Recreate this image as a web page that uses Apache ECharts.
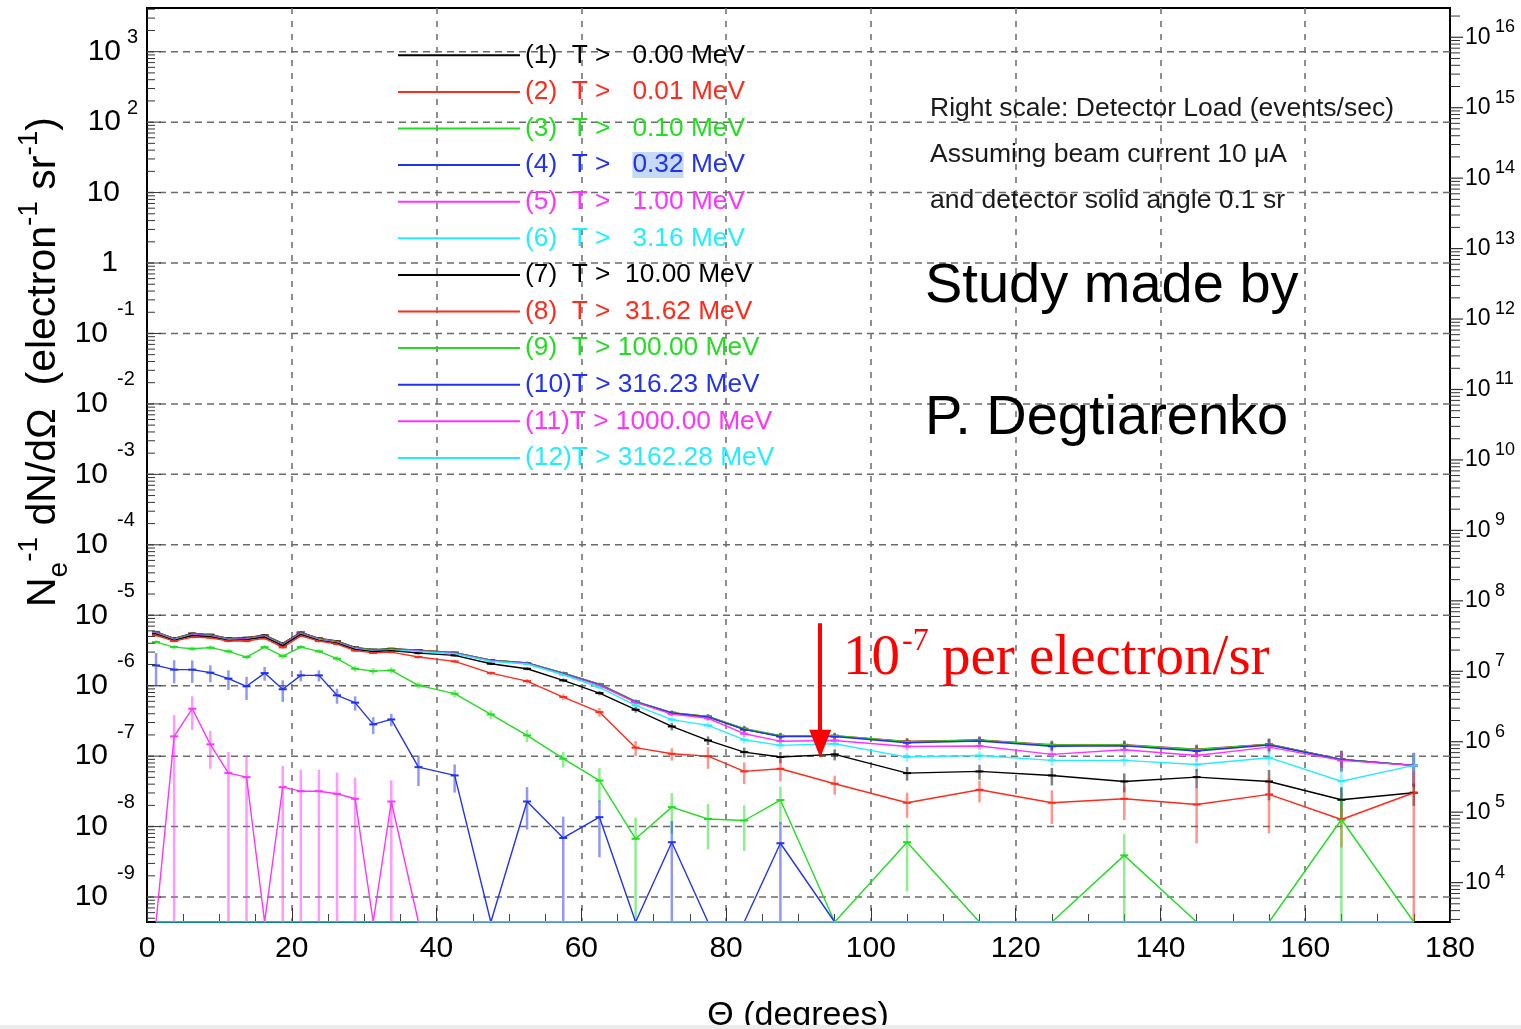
<!DOCTYPE html>
<html>
<head>
<meta charset="utf-8">
<title>Angular distribution of secondaries</title>
<script src="https://cdn.jsdelivr.net/npm/echarts@6/dist/echarts.min.js"></script>
<style>
  html, body { margin: 0; padding: 0; background: #fff; }
  #chart { width: 1521px; height: 1029px; }
</style>
</head>
<body>
<div id="chart"></div>
<script>
// bin centres (degrees): 2.5 deg bins to 35, 5 deg bins to 90, 10 deg bins to 180
var theta = [1.25, 3.75, 6.25, 8.75, 11.25, 13.75, 16.25, 18.75, 21.25, 23.75, 26.25, 28.75, 31.25, 33.75,
  37.5, 42.5, 47.5, 52.5, 57.5, 62.5, 67.5, 72.5, 77.5, 82.5, 87.5,
  95, 105, 115, 125, 135, 145, 155, 165, 175];

// kinetic energy thresholds, MeV
var thresholds = [0, 0.01, 0.1, 0.32, 1, 3.16, 10, 31.62, 100, 316.23, 1000, 3162.28];

// decade tick labels (exponents) on the left and right scales
var leftExponents = [-9, -8, -7, -6, -5, -4, -3, -2, -1, 0, 1, 2, 3];
var rightExponents = [4, 5, 6, 7, 8, 9, 10, 11, 12, 13, 14, 15, 16];

// dN/dOmega per electron per sr, one array per threshold (0 = empty bin)
var s1 = [5.8e-6, 4.7e-6, 5.5e-6, 5.3e-6, 4.7e-6, 4.8e-6, 5.2e-6, 4.0e-6, 5.7e-6, 4.7e-6, 4.3e-6, 3.5e-6, 3.25e-6, 3.35e-6,
  3.2e-6, 2.95e-6, 2.3e-6, 2.1e-6, 1.5e-6, 1.04e-6, 5.9e-7, 4.1e-7, 3.6e-7, 2.4e-7, 1.92e-7,
  1.92e-7, 1.6e-7, 1.68e-7, 1.42e-7, 1.43e-7, 1.23e-7, 1.47e-7, 9.0e-8, 7.4e-8];
var s2 = [5.75e-6, 4.65e-6, 5.45e-6, 5.25e-6, 4.65e-6, 4.75e-6, 5.15e-6, 3.95e-6, 5.65e-6, 4.65e-6, 4.25e-6, 3.45e-6, 3.2e-6, 3.3e-6,
  3.18e-6, 2.93e-6, 2.3e-6, 2.1e-6, 1.5e-6, 1.05e-6, 6.0e-7, 4.15e-7, 3.65e-7, 2.45e-7, 1.95e-7,
  1.95e-7, 1.62e-7, 1.7e-7, 1.45e-7, 1.45e-7, 1.25e-7, 1.48e-7, 9.0e-8, 7.4e-8];
var s3 = [5.7e-6, 4.6e-6, 5.4e-6, 5.2e-6, 4.6e-6, 4.7e-6, 5.1e-6, 3.9e-6, 5.6e-6, 4.6e-6, 4.2e-6, 3.45e-6, 3.2e-6, 3.3e-6,
  3.15e-6, 2.92e-6, 2.28e-6, 2.1e-6, 1.5e-6, 1.05e-6, 6.0e-7, 4.15e-7, 3.65e-7, 2.45e-7, 1.95e-7,
  1.95e-7, 1.6e-7, 1.68e-7, 1.44e-7, 1.44e-7, 1.24e-7, 1.47e-7, 9.0e-8, 7.4e-8];
var s4 = [5.65e-6, 4.55e-6, 5.35e-6, 5.15e-6, 4.55e-6, 4.65e-6, 5.05e-6, 3.85e-6, 5.55e-6, 4.55e-6, 4.15e-6, 3.4e-6, 3.15e-6, 3.25e-6,
  3.12e-6, 2.9e-6, 2.26e-6, 2.08e-6, 1.48e-6, 1.03e-6, 5.9e-7, 4.1e-7, 3.6e-7, 2.4e-7, 1.9e-7,
  1.9e-7, 1.55e-7, 1.64e-7, 1.38e-7, 1.4e-7, 1.18e-7, 1.44e-7, 8.9e-8, 7.4e-8];
var s5 = [5.6e-6, 4.5e-6, 5.3e-6, 5.1e-6, 4.5e-6, 4.6e-6, 5.0e-6, 3.8e-6, 5.5e-6, 4.5e-6, 4.1e-6, 3.38e-6, 3.12e-6, 3.22e-6,
  3.1e-6, 2.88e-6, 2.25e-6, 2.06e-6, 1.46e-6, 1.01e-6, 5.8e-7, 3.95e-7, 3.45e-7, 2.08e-7, 1.63e-7,
  1.67e-7, 1.37e-7, 1.39e-7, 1.06e-7, 1.23e-7, 1.02e-7, 1.34e-7, 8.7e-8, 7.4e-8];
var s6 = [5.5e-6, 4.45e-6, 5.2e-6, 5.0e-6, 4.45e-6, 4.55e-6, 4.95e-6, 3.75e-6, 5.4e-6, 4.45e-6, 4.05e-6, 3.32e-6, 3.08e-6, 3.18e-6,
  3.05e-6, 2.85e-6, 2.22e-6, 2.03e-6, 1.43e-6, 9.5e-7, 5.25e-7, 3.3e-7, 2.73e-7, 1.71e-7, 1.42e-7,
  1.5e-7, 9.7e-8, 1.02e-7, 8.7e-8, 8.7e-8, 7.6e-8, 9.5e-8, 4.4e-8, 7.4e-8];
var s7 = [5.45e-6, 4.4e-6, 5.15e-6, 4.95e-6, 4.4e-6, 4.5e-6, 4.9e-6, 3.7e-6, 5.35e-6, 4.4e-6, 4.0e-6, 3.28e-6, 3.05e-6, 3.15e-6,
  2.9e-6, 2.69e-6, 2.05e-6, 1.74e-6, 1.19e-6, 7.85e-7, 4.56e-7, 2.64e-7, 1.67e-7, 1.14e-7, 9.7e-8,
  1.06e-7, 5.74e-8, 6.07e-8, 5.32e-8, 4.37e-8, 5.03e-8, 4.37e-8, 2.4e-8, 3.02e-8];
var s8 = [5.2e-6, 4.3e-6, 4.9e-6, 4.8e-6, 4.3e-6, 4.3e-6, 4.7e-6, 3.5e-6, 5.1e-6, 4.3e-6, 3.9e-6, 3.15e-6, 2.92e-6, 3.0e-6,
  2.55e-6, 2.21e-6, 1.51e-6, 1.16e-6, 6.9e-7, 4.22e-7, 1.32e-7, 1.08e-7, 1.0e-7, 6.07e-8, 6.62e-8,
  4.06e-8, 2.18e-8, 3.33e-8, 2.18e-8, 2.48e-8, 2.06e-8, 2.86e-8, 1.26e-8, 3.02e-8];
var s9 = [4.16e-6, 3.53e-6, 3.35e-6, 3.47e-6, 3.07e-6, 2.55e-6, 3.53e-6, 2.63e-6, 3.53e-6, 3.07e-6, 2.42e-6, 1.74e-6, 1.61e-6, 1.65e-6,
  1.01e-6, 7.7e-7, 3.91e-7, 1.97e-7, 9.2e-8, 4.5e-8, 6.7e-9, 1.89e-8, 1.28e-8, 1.22e-8, 2.38e-8,
  0, 6.0e-9, 0, 0, 3.9e-9, 0, 0, 1.26e-8, 0];
var s10 = [1.94e-6, 1.69e-6, 1.69e-6, 1.53e-6, 1.26e-6, 9.8e-7, 1.51e-6, 8.9e-7, 1.4e-6, 1.4e-6, 7.3e-7, 5.74e-7, 2.82e-7, 3.32e-7,
  6.98e-8, 5.32e-8, 0, 2.27e-8, 6.9e-9, 1.36e-8, 0, 6.0e-9, 0, 0, 5.8e-9,
  0, 0, 0, 0, 0, 0, 0, 0, 0];
var s11 = [0, 1.91e-7, 4.71e-7, 1.47e-7, 5.74e-8, 5.03e-8, 0, 3.63e-8, 3.18e-8, 3.18e-8, 2.92e-8, 2.48e-8, 0, 2.27e-8,
  0, 0, 0, 0, 0, 0, 0, 0, 0, 0, 0,
  0, 0, 0, 0, 0, 0, 0, 0, 0];
var s12 = [0, 0, 0, 0, 0, 0, 0, 0, 0, 0, 0, 0, 0, 0,
  0, 0, 0, 0, 0, 0, 0, 0, 0, 0, 0,
  0, 0, 0, 0, 0, 0, 0, 0, 0];

// relative statistical errors (sigma / value)
var errTop = [0.03, 0.03, 0.03, 0.03, 0.03, 0.03, 0.03, 0.03, 0.03, 0.03, 0.03, 0.03, 0.03, 0.03,
  0.03, 0.03, 0.04, 0.04, 0.05, 0.05, 0.06, 0.07, 0.08, 0.1, 0.1,
  0.1, 0.12, 0.12, 0.15, 0.15, 0.17, 0.2, 0.32, 0.5];
var err6 = [0.03, 0.03, 0.03, 0.03, 0.03, 0.03, 0.03, 0.03, 0.03, 0.03, 0.03, 0.03, 0.03, 0.03,
  0.03, 0.03, 0.04, 0.04, 0.05, 0.06, 0.07, 0.08, 0.1, 0.12, 0.12,
  0.12, 0.15, 0.15, 0.17, 0.17, 0.2, 0.22, 0.55, 0.5];
var err7 = [0.03, 0.03, 0.03, 0.03, 0.03, 0.03, 0.03, 0.03, 0.03, 0.03, 0.03, 0.03, 0.03, 0.03,
  0.04, 0.04, 0.04, 0.05, 0.06, 0.07, 0.09, 0.12, 0.14, 0.16, 0.18,
  0.18, 0.22, 0.24, 0.28, 0.3, 0.3, 0.46, 0.5, 0.35];
var err8 = [0.04, 0.04, 0.04, 0.04, 0.04, 0.04, 0.04, 0.04, 0.04, 0.04, 0.04, 0.04, 0.04, 0.04,
  0.05, 0.05, 0.06, 0.07, 0.09, 0.14, 0.24, 0.2, 0.34, 0.34, 0.34,
  0.3, 0.39, 0.34, 0.5, 0.5, 0.72, 0.72, 0.6, 1.0];
var err9 = [0.06, 0.07, 0.07, 0.07, 0.07, 0.08, 0.07, 0.08, 0.07, 0.07, 0.08, 0.09, 0.1, 0.1,
  0.1, 0.12, 0.14, 0.2, 0.25, 0.5, 1.0, 0.58, 0.63, 0.63, 0.55,
  0, 0.8, 0, 0, 1.0, 0, 0, 1.0, 0];
var err10 = [0.5, 0.36, 0.35, 0.27, 0.31, 0.36, 0.22, 0.34, 0.18, 0.18, 0.24, 0.23, 0.27, 0.2,
  0.46, 0.43, 0, 0.6, 1.0, 0.73, 0, 1.0, 0, 0, 1.0,
  0, 0, 0, 0, 0, 0, 0, 0, 0];
var err11 = [0, 1.0, 0.5, 0.55, 1.0, 1.0, 0, 1.0, 1.0, 1.0, 1.0, 1.0, 0, 1.0,
  0, 0, 0, 0, 0, 0, 0, 0, 0, 0, 0,
  0, 0, 0, 0, 0, 0, 0, 0, 0];

var yMin = 4.42e-10, yMax = 4.17e3;
// right scale: 10 uA beam (electrons/s) times 0.1 sr
var rate = 10e-6 / 1.602e-19 * 0.1;

var colors = ['#000000', '#ff2a1a', '#22dd22', '#2233ee', '#ff33ff', '#22eeff',
  '#000000', '#ff2a1a', '#22dd22', '#2233ee', '#ff33ff', '#22eeff'];
var values = [s1, s2, s3, s4, s5, s6, s7, s8, s9, s10, s11, s12];
var errors = [errTop, errTop, errTop, errTop, errTop, err6, err7, err8, err9, err10, err11, s12];

var FONT = '"Liberation Sans", Arial, sans-serif';
var SERIF = '"Liberation Serif", "Times New Roman", serif';
var GRID_LINE = { stroke: '#6b6b6b', lineWidth: 1.5, lineDash: [7, 5] };

function legendName(i) {
    var v = thresholds[i].toFixed(2);
    while (v.length < 6) v = ' ' + v;
    return '(' + (i + 1) + ')' + (i < 9 ? '  ' : '') + 'T > ' + v + ' MeV';
}

function txt(s, x, y, align, size) {
    return {
        type: 'text', x: x, y: y,
        style: { text: s, font: size + 'px ' + FONT, fill: '#000', textFill: '#000',
            align: align, textAlign: align, verticalAlign: 'middle', textVerticalAlign: 'middle' }
    };
}

function renderErr(params, api) {
    var p = api.coord([api.value(0), api.value(1)]);
    var lo = api.coord([api.value(0), api.value(2)]);
    var hi = api.coord([api.value(0), api.value(3)]);
    var c = api.visual('color');
    return {
        type: 'group',
        children: [
            { type: 'line', shape: { x1: p[0], y1: lo[1], x2: p[0], y2: hi[1] }, style: { stroke: c, lineWidth: 2.5, opacity: 0.5 } },
            { type: 'line', shape: { x1: p[0] - 4, y1: p[1], x2: p[0] + 4, y2: p[1] }, style: { stroke: c, lineWidth: 2 } }
        ]
    };
}

function tickRenderer(len) {
    return function (params, api) {
        var p = api.coord([api.value(0), api.value(1)]);
        return { type: 'line', shape: { x1: p[0], y1: p[1], x2: p[0] + len, y2: p[1] }, style: { stroke: '#333', lineWidth: 1 } };
    };
}

// decade grid line, major tick and "10^n" label on the left scale
function renderLeftDecade(params, api) {
    var v = api.value(1), n = api.value(2);
    var p = api.coord([0, v]);
    var pr = api.coord([180, v]);
    var kids = [
        { type: 'line', shape: { x1: p[0], y1: p[1], x2: pr[0], y2: p[1] }, style: GRID_LINE },
        { type: 'line', shape: { x1: p[0], y1: p[1], x2: p[0] + 14, y2: p[1] }, style: { stroke: '#333', lineWidth: 1 } }
    ];
    if (n === 0) {
        kids.push(txt('1', 118, p[1], 'right', 30));
    } else if (n === 1) {
        kids.push(txt('10', 120, p[1], 'right', 30));
    } else if (n > 0) {
        kids.push(txt('10', 121, p[1], 'right', 30));
        kids.push(txt(String(n), 127, p[1] - 14, 'left', 20));
    } else {
        kids.push(txt('10', 108, p[1], 'right', 30));
        kids.push(txt(String(n), 117, p[1] - 24, 'left', 20));
    }
    return { type: 'group', children: kids };
}

// major tick and "10^n" label on the right scale
function renderRightDecade(params, api) {
    var p = api.coord([180, api.value(1)]);
    var n = api.value(2);
    return {
        type: 'group',
        children: [
            { type: 'line', shape: { x1: p[0], y1: p[1], x2: p[0] + 13, y2: p[1] }, style: { stroke: '#333', lineWidth: 1.2 } },
            txt('10', p[0] + 15, p[1], 'left', 23),
            txt(String(n), p[0] + 45, p[1] - 10, 'left', 18)
        ]
    };
}

var series = [];
var legendData = [];
values.forEach(function (vals, i) {
    var name = legendName(i);
    legendData.push({ name: name, textStyle: { color: colors[i] } });
    series.push({
        type: 'line',
        name: name,
        data: theta.map(function (t, k) { return [t, vals[k] > 0 ? vals[k] : yMin]; }),
        symbol: 'none',
        lineStyle: { color: colors[i], width: 1.4 },
        itemStyle: { color: colors[i] },
        z: 3
    });
    var eb = [];
    theta.forEach(function (t, k) {
        var r = errors[i][k];
        if (vals[k] > 0 && r > 0) {
            eb.push([t, vals[k], Math.max(vals[k] * (1 - r), yMin), vals[k] * (1 + r)]);
        }
    });
    series.push({
        type: 'custom',
        name: 'err' + (i + 1),
        data: eb,
        encode: { x: 0, y: 1 },
        renderItem: renderErr,
        itemStyle: { color: colors[i] },
        clip: true,
        silent: true,
        z: 2
    });
});

// minor log ticks on both vertical axes
var leftMinor = [], rightMinor = [];
for (var d = -10; d <= 4; d++) {
    for (var m = 2; m <= 9; m++) {
        var v = m * Math.pow(10, d);
        if (v > yMin && v < yMax) leftMinor.push([0, v]);
    }
}
for (d = 3; d <= 16; d++) {
    for (m = 2; m <= 9; m++) {
        v = m * Math.pow(10, d);
        if (v > yMin * rate && v < yMax * rate) rightMinor.push([180, v]);
    }
}
series.push({ type: 'custom', name: 'minorL', data: leftMinor, encode: { x: 0, y: 1 }, renderItem: tickRenderer(8), silent: true, z: 4 });
series.push({ type: 'custom', name: 'minorR', data: rightMinor, yAxisIndex: 1, encode: { x: 0, y: 1 }, renderItem: tickRenderer(10), silent: true, z: 4 });
series.push({
    type: 'custom', name: 'decadesL', silent: true, z: 1,
    data: leftExponents.map(function (n) { return [0, Math.pow(10, n), n]; }),
    encode: { x: 0, y: 1 },
    renderItem: renderLeftDecade
});
series.push({
    type: 'custom', name: 'decadesR', silent: true, z: 1, yAxisIndex: 1,
    data: rightExponents.map(function (n) { return [180, Math.pow(10, n), n]; }),
    encode: { x: 0, y: 1 },
    renderItem: renderRightDecade
});

// red arrow pointing at the 1e-7 level
series[0].markLine = {
    silent: true,
    symbol: ['none', 'triangle'],
    symbolSize: [22, 28],
    label: { show: false },
    lineStyle: { color: '#ff0000', width: 4, type: 'solid' },
    data: [[{ coord: [93, 7.7e-6] }, { coord: [93, 1.5e-7] }]]
};

var myChart = echarts.init(document.getElementById('chart'));

var option = {
    animation: false,
    backgroundColor: '#ffffff',
    grid: {
        left: 147, right: 71, top: 8, bottom: 107,
        show: true, borderColor: '#000', borderWidth: 2
    },
    legend: {
        left: 398, top: 37, padding: 0,
        orient: 'vertical',
        icon: 'rect',
        itemWidth: 122, itemHeight: 2, itemGap: 0,
        selectedMode: false,
        data: legendData,
        formatter: function (name) {
            if (name.indexOf('0.32') < 0) return name;
            var parts = name.split('0.32');
            return '{a|' + parts[0] + '}{h|0.32}{a|' + parts[1] + '}';
        },
        textStyle: {
            fontSize: 26.3, fontFamily: FONT, lineHeight: 36.6,
            rich: {
                a: { fontSize: 26.3, fontFamily: FONT, lineHeight: 36.6, color: colors[3] },
                h: { fontSize: 26.3, fontFamily: FONT, lineHeight: 36.6, color: colors[3], backgroundColor: '#c6d9f6' }
            }
        }
    },
    xAxis: {
        type: 'value', min: 0, max: 180, interval: 20,
        axisLine: { lineStyle: { color: '#000', width: 2 } },
        axisTick: { inside: true, length: 14, lineStyle: { color: '#333' } },
        minorTick: { show: true, splitNumber: 4, length: 8, lineStyle: { color: '#444' } },
        axisLabel: { fontSize: 30, fontFamily: FONT, color: '#000', margin: 12 },
        splitLine: { show: true, lineStyle: { color: '#6b6b6b', width: 1.5, type: [6, 7] } }
    },
    yAxis: [{
        type: 'log', min: yMin, max: yMax,
        axisLine: { show: true, lineStyle: { color: '#000', width: 2 } },
        axisTick: { show: false },
        axisLabel: { show: false },
        splitLine: { show: false }
    }, {
        type: 'log', position: 'right', min: yMin * rate, max: yMax * rate,
        axisLine: { show: true, lineStyle: { color: '#000', width: 2 } },
        axisTick: { show: false },
        axisLabel: { show: false },
        splitLine: { show: false }
    }],
    graphic: [
        {
            type: 'text', x: 44, y: 362, rotation: Math.PI / 2, z: 10,
            style: {
                text: '{b|N}{sub|e}{sup|-1}{b| dN/d\u03A9  (electron}{sup|-1}{b| sr}{sup|-1}{b|)}',
                fill: '#000', align: 'center', verticalAlign: 'middle', textAlign: 'center', textVerticalAlign: 'middle',
                font: '41px ' + FONT,
                rich: {
                    b: { font: '41px ' + FONT, lineHeight: 41 },
                    sup: { font: '28px ' + FONT, lineHeight: 28, padding: [0, 0, 30, 0] },
                    sub: { font: '28px ' + FONT, lineHeight: 28, padding: [30, 0, 0, 0] }
                }
            }
        },
        {
            type: 'text', x: 798, y: 1016, z: 10,
            style: { text: '\u0398 (degrees)', fill: '#000', font: '34px ' + FONT, align: 'center', verticalAlign: 'middle', textAlign: 'center', textVerticalAlign: 'middle' }
        },
        {
            type: 'text', x: 930, y: 109, z: 10,
            style: { text: 'Right scale: Detector Load (events/sec)', fill: '#1a1a1a', font: '26.5px ' + FONT, verticalAlign: 'middle', textVerticalAlign: 'middle' }
        },
        {
            type: 'text', x: 930, y: 155, z: 10,
            style: { text: 'Assuming beam current 10 \u03BCA', fill: '#1a1a1a', font: '26.5px ' + FONT, verticalAlign: 'middle', textVerticalAlign: 'middle' }
        },
        {
            type: 'text', x: 930, y: 201, z: 10,
            style: { text: 'and detector solid angle 0.1 sr', fill: '#1a1a1a', font: '26.5px ' + FONT, verticalAlign: 'middle', textVerticalAlign: 'middle' }
        },
        {
            type: 'text', x: 925, y: 287, z: 10,
            style: { text: 'Study made by', fill: '#000', font: '56px ' + FONT, verticalAlign: 'middle', textVerticalAlign: 'middle' }
        },
        {
            type: 'text', x: 925, y: 419, z: 10,
            style: { text: 'P. Degtiarenko', fill: '#000', font: '56px ' + FONT, verticalAlign: 'middle', textVerticalAlign: 'middle' }
        },
        {
            type: 'text', x: 843, y: 659, z: 10,
            style: { text: '10', fill: '#ff0000', font: '57px ' + SERIF, verticalAlign: 'middle', textVerticalAlign: 'middle' }
        },
        {
            type: 'text', x: 902, y: 642, z: 10,
            style: { text: '-7', fill: '#ff0000', font: '32px ' + SERIF, verticalAlign: 'middle', textVerticalAlign: 'middle' }
        },
        {
            type: 'text', x: 942, y: 659, z: 10,
            style: { text: 'per electron/sr', fill: '#ff0000', font: '57px ' + SERIF, verticalAlign: 'middle', textVerticalAlign: 'middle' }
        },
        {
            type: 'rect', z: 20,
            shape: { x: 0, y: 1025, width: 1521, height: 4 },
            style: { fill: '#ececec' }
        }
    ],
    series: series
};

myChart.setOption(option);

window.addEventListener('resize', function () {
    myChart.resize();
});
</script>
</body>
</html>
